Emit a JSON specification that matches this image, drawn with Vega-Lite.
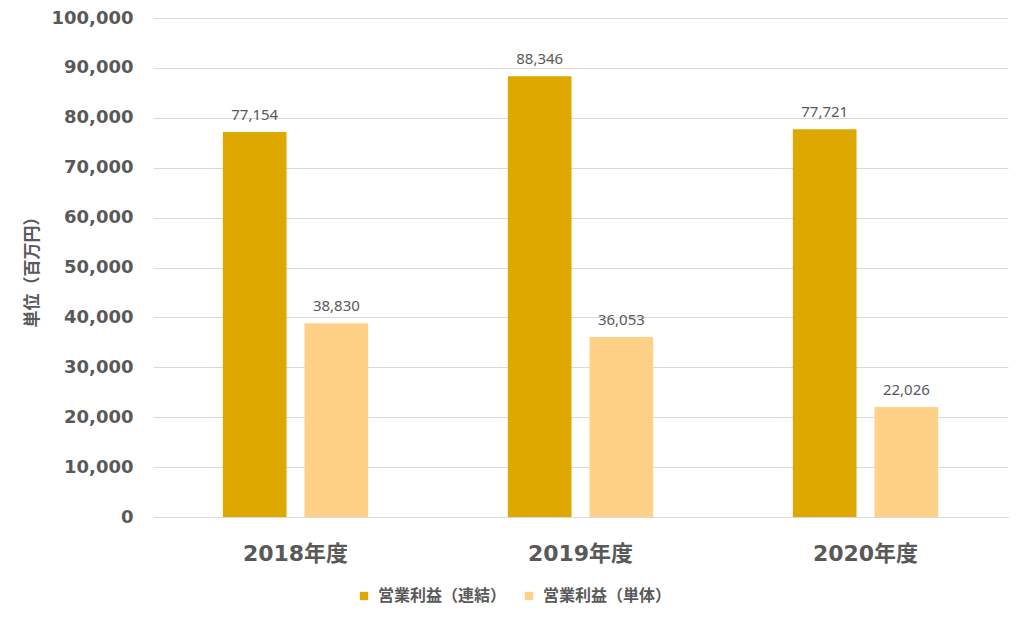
{
  "$schema": "https://vega.github.io/schema/vega-lite/v6.json",
  "width": 855,
  "height": 499,
  "autosize": {"type": "none"},
  "padding": {"left": 153, "top": 18, "right": 16, "bottom": 103},
  "background": "white",
  "config": {"view": {"stroke": null}},
  "data": {
    "values": [
      {"year": "2018年度", "series": "営業利益（連結）", "value": 77154},
      {"year": "2018年度", "series": "営業利益（単体）", "value": 38830},
      {"year": "2019年度", "series": "営業利益（連結）", "value": 88346},
      {"year": "2019年度", "series": "営業利益（単体）", "value": 36053},
      {"year": "2020年度", "series": "営業利益（連結）", "value": 77721},
      {"year": "2020年度", "series": "営業利益（単体）", "value": 22026}
    ]
  },
  "encoding": {
    "x": {
      "field": "year", "type": "nominal",
      "scale": {"paddingInner": 0.49, "paddingOuter": 0.245},
      "axis": {
        "title": null, "labelAngle": 0, "ticks": false,
        "domainColor": "#d9d9d9", "domainWidth": 1,
        "labelFont": "DejaVu Sans, Noto Sans CJK JP", "labelFontWeight": "bold",
        "labelFontSize": 22, "labelColor": "#595959", "labelPadding": 26
      }
    },
    "xOffset": {
      "field": "series", "type": "nominal",
      "sort": ["営業利益（連結）", "営業利益（単体）"],
      "scale": {"paddingInner": 0.22, "paddingOuter": 0}
    },
    "y": {
      "field": "value", "type": "quantitative",
      "scale": {"domain": [0, 100000], "nice": false},
      "axis": {
        "title": "単位（百万円）",
        "values": [0,10000,20000,30000,40000,50000,60000,70000,80000,90000,100000],
        "format": ",d", "ticks": false, "domain": false, "labelOverlap": false,
        "gridColor": "#d9d9d9", "gridWidth": 1,
        "labelFont": "DejaVu Sans", "labelFontWeight": "bold", "labelFontSize": 18,
        "labelColor": "#595959", "labelPadding": 20,
        "titleFont": "Noto Sans CJK JP", "titleFontWeight": "bold", "titleFontSize": 17,
        "titleColor": "#595959", "titlePadding": 10
      }
    }
  },
  "layer": [
    {
      "mark": {"type": "bar"},
      "encoding": {
        "color": {
          "field": "series", "type": "nominal",
          "sort": ["営業利益（連結）", "営業利益（単体）"],
          "scale": {"domain": ["営業利益（連結）", "営業利益（単体）"], "range": ["#DFA800", "#FFD187"]},
          "legend": {
            "title": null, "orient": "none", "direction": "horizontal",
            "legendX": 203, "legendY": 570,
            "symbolType": "square", "symbolSize": 70, "symbolStrokeWidth": 0,
            "columnPadding": 14, "labelOffset": 6,
            "labelFont": "Noto Sans CJK JP", "labelFontWeight": "bold", "labelFontSize": 16,
            "labelColor": "#595959"
          }
        }
      }
    },
    {
      "mark": {"type": "text", "baseline": "bottom", "dy": -9, "font": "Noto Sans", "fontSize": 15, "color": "#595959"},
      "encoding": {
        "text": {"field": "value", "type": "quantitative", "format": ",d"}
      }
    }
  ]
}
